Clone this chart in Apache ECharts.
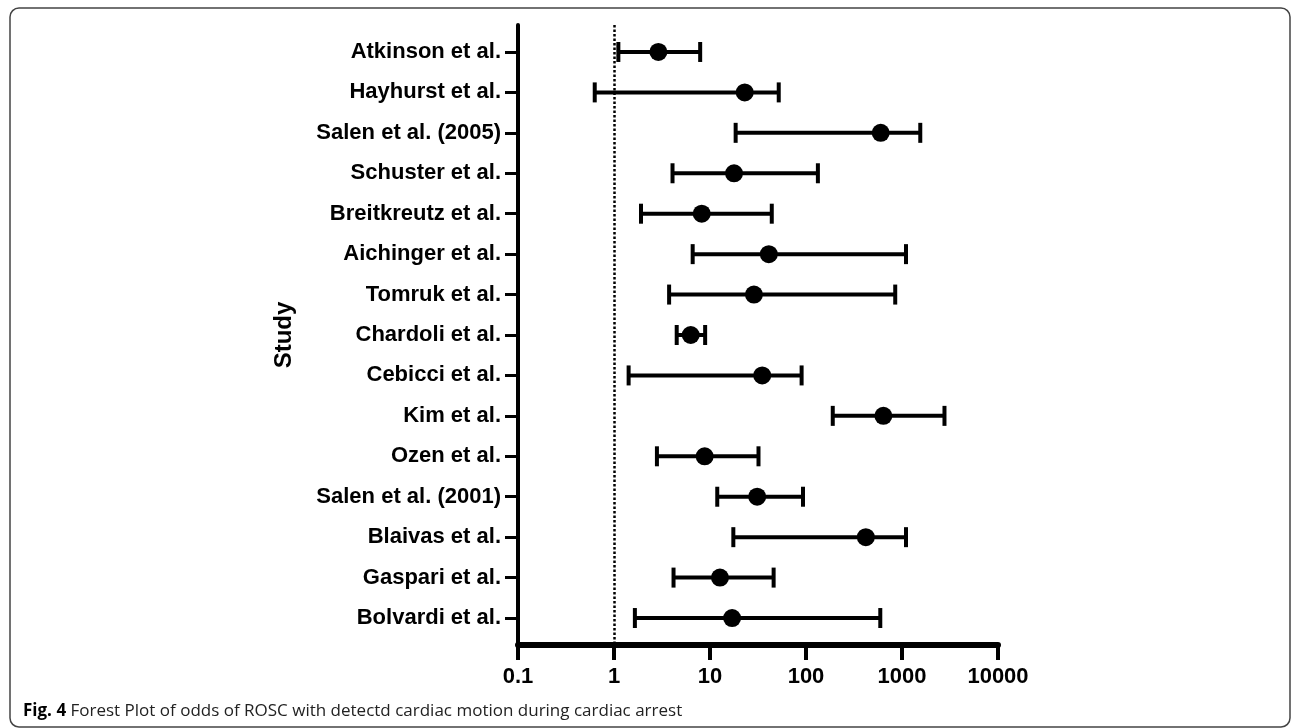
<!DOCTYPE html>
<html>
<head>
<meta charset="utf-8">
<script src="https://cdn.jsdelivr.net/npm/echarts@6/dist/echarts.min.js"></script>
<style>
html,body{margin:0;padding:0;background:#fff;}
#chart{width:1292px;height:728px;}
</style>
</head>
<body>
<div id="chart"></div>
<script>
const studies = ['Atkinson et al.','Hayhurst et al.','Salen et al. (2005)','Schuster et al.','Breitkreutz et al.','Aichinger et al.','Tomruk et al.','Chardoli et al.','Cebicci et al.','Kim et al.','Ozen et al.','Salen et al. (2001)','Blaivas et al.','Gaspari et al.','Bolvardi et al.'];
const oddsRatio = [2.9, 23, 600, 17.8, 8.2, 41, 28.7, 6.3, 35, 640, 8.8, 31, 420, 12.7, 17];
const ciLower   = [1.11, 0.63, 18.5, 4.07, 1.91, 6.6, 3.75, 4.5, 1.42, 190, 2.8, 11.9, 17.5, 4.17, 1.65];
const ciUpper   = [7.9, 52, 1550, 133, 44, 1100, 850, 8.9, 90, 2770, 32, 93, 1100, 46, 594];
const xTicks = [0.1, 1, 10, 100, 1000, 10000];
const nullValue = 1;
const caption = {bold: 'Fig. 4', text: ' Forest Plot of odds of ROSC with detectd cardiac motion during cardiac arrest'};

const rowIdx = studies.map((s, i) => i);
const ciData = studies.map((s, i) => [i, ciLower[i], ciUpper[i]]);
const ptData = studies.map((s, i) => [oddsRatio[i], i]);

const chart = echarts.init(document.getElementById('chart'));
const labelFont = {fontFamily: 'Liberation Sans', fontWeight: 'bold', fontSize: 22, color: '#000'};

chart.setOption({
  animation: false,
  backgroundColor: '#fff',
  grid: {left: 518, right: 294, top: 25, bottom: 83, containLabel: false},
  xAxis: {
    type: 'log', logBase: 10, min: xTicks[0], max: xTicks[xTicks.length - 1],
    axisLine: {show: true, onZero: false, lineStyle: {color: '#000', width: 6}},
    axisTick: {show: true, length: 15, lineStyle: {color: '#000', width: 4}},
    axisLabel: Object.assign({margin: 21, formatter: v => (v < 1 ? '0.1' : String(Math.round(v)))}, labelFont),
    splitLine: {show: false}
  },
  yAxis: {
    type: 'value', inverse: true, min: -0.667, max: studies.length - 1 + 0.667,
    name: 'Study', nameLocation: 'middle', nameGap: 222, nameRotate: 90,
    nameTextStyle: {fontFamily: 'Liberation Sans', fontWeight: 'bold', fontSize: 24, color: '#000'},
    axisLine: {show: true, onZero: false, lineStyle: {color: '#000', width: 4}},
    axisTick: {show: true, length: 13, customValues: rowIdx, lineStyle: {color: '#000', width: 3}},
    axisLabel: Object.assign({margin: 17, customValues: rowIdx, formatter: v => studies[Math.round(v)]}, labelFont),
    splitLine: {show: false}
  },
  series: [
    {
      type: 'custom',
      data: ciData,
      encode: {x: [1, 2], y: 0},
      renderItem: function (params, api) {
        const y = api.value(0);
        const lo = api.coord([api.value(1), y]);
        const hi = api.coord([api.value(2), y]);
        const h = 10;
        const st = {stroke: '#000', lineWidth: 4};
        return {
          type: 'group',
          children: [
            {type: 'line', shape: {x1: lo[0], y1: lo[1], x2: hi[0], y2: hi[1]}, style: st},
            {type: 'line', shape: {x1: lo[0], y1: lo[1] - h, x2: lo[0], y2: lo[1] + h}, style: st},
            {type: 'line', shape: {x1: hi[0], y1: hi[1] - h, x2: hi[0], y2: hi[1] + h}, style: st}
          ]
        };
      },
      z: 3
    },
    {
      type: 'scatter',
      data: ptData,
      symbol: 'circle',
      symbolSize: 18,
      itemStyle: {color: '#000', opacity: 1},
      z: 4,
      markLine: {
        silent: true,
        symbol: ['none', 'none'],
        label: {show: false},
        lineStyle: {color: '#000', type: [2.5, 2], width: 2.5, opacity: 1},
        data: [{xAxis: nullValue}]
      }
    }
  ],
  graphic: [
    {type: 'rect', shape: {x: 10, y: 8, width: 1280, height: 719, r: 9}, style: {fill: 'none', stroke: '#444', lineWidth: 1.5}, z: -1},
    {
      type: 'text', left: 23, top: 703,
      style: {
        text: '{b|' + caption.bold + '}{r|' + caption.text + '}',
        rich: {
          b: {fontFamily: 'Open Sans', fontWeight: 'bold', fontSize: 17, fill: '#000'},
          r: {fontFamily: 'Open Sans', fontSize: 17, fill: '#222'}
        }
      }
    }
  ]
});
</script>
</body>
</html>
